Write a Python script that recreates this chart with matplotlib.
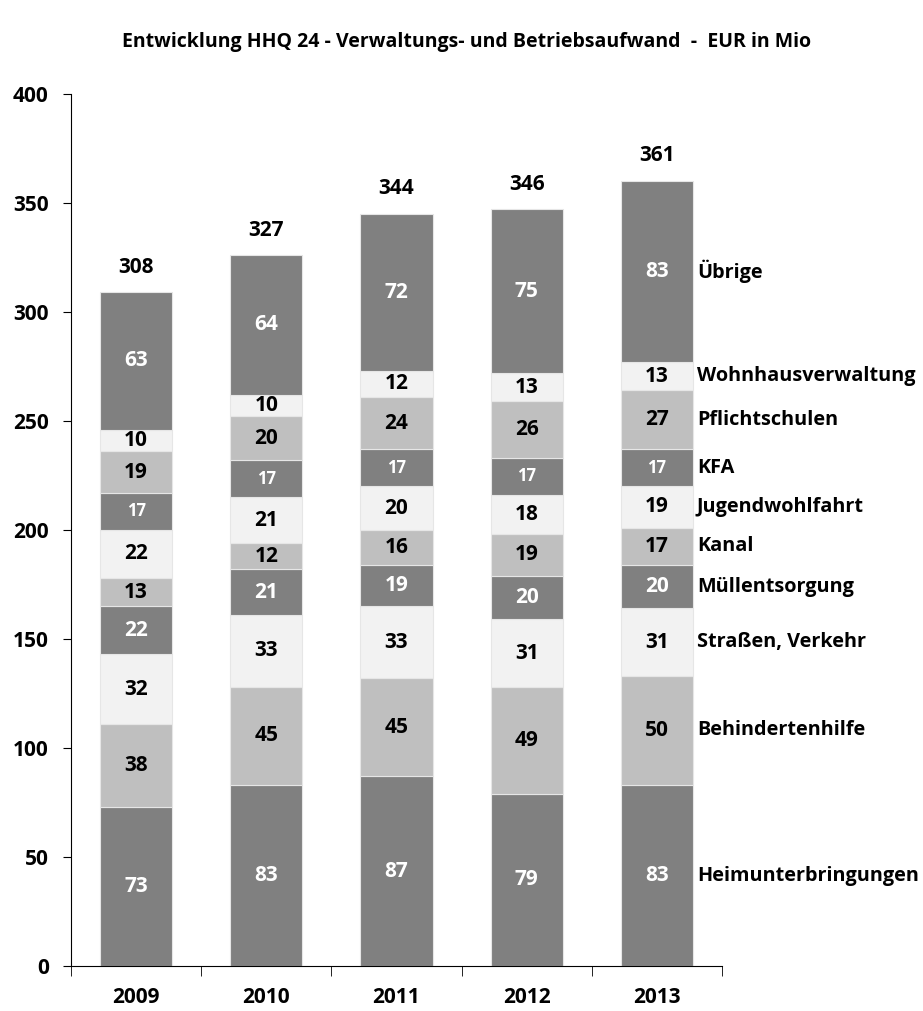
import numpy as np
import matplotlib.pyplot as plt

plt.rcParams["font.family"] = ["Open Sans", "DejaVu Sans"]
plt.rcParams["font.weight"] = "bold"

years = ["2009", "2010", "2011", "2012", "2013"]
categories = [
    "Heimunterbringungen",
    "Behindertenhilfe",
    "Straßen, Verkehr",
    "Müllentsorgung",
    "Kanal",
    "Jugendwohlfahrt",
    "KFA",
    "Pflichtschulen",
    "Wohnhausverwaltung",
    "Übrige",
]
heim = [73, 83, 87, 79, 83]
behind = [38, 45, 45, 49, 50]
strassen = [32, 33, 33, 31, 31]
muell = [22, 21, 19, 20, 20]
kanal = [13, 12, 16, 19, 17]
jugend = [22, 21, 20, 18, 19]
kfa = [17, 17, 17, 17, 17]
schulen = [19, 20, 24, 26, 27]
wohn = [10, 10, 12, 13, 13]
uebrige = [63, 64, 72, 75, 83]
totals = [308, 327, 344, 346, 361]

series = [heim, behind, strassen, muell, kanal, jugend, kfa, schulen, wohn, uebrige]

dark = "#808080"
mid = "#bfbfbf"
light = "#f2f2f2"
colors = [dark, mid, light] * 3 + [dark]

fig = plt.figure(figsize=(9.23, 10.11), dpi=100)
ax = fig.add_axes([0.0769, 0.0445, 0.7053, 0.8628])

x = np.arange(len(years))
width = 0.555
bottom = np.zeros(len(years))
for i, vals in enumerate(series):
    vals = np.array(vals, dtype=float)
    ax.bar(x, vals, width, bottom=bottom, color=colors[i],
           edgecolor="#e6e6e6", linewidth=0.8)
    txt_color = "white" if colors[i] == dark else "black"
    size = 12 if categories[i] == "KFA" else 15
    for j, v in enumerate(vals):
        ax.text(x[j], bottom[j] + v / 2, f"{v:.0f}", ha="center", va="center",
                color=txt_color, fontsize=size, fontweight="bold")
    # Beschriftung rechts neben dem letzten Balken
    ax.text(x[-1] + width / 2 + 0.03, bottom[-1] + vals[-1] / 2, categories[i],
            ha="left", va="center", fontsize=14.3, fontweight="bold")
    bottom += vals

for j, t in enumerate(totals):
    ax.annotate(str(t), (x[j], bottom[j]), xytext=(0, 18), textcoords="offset points",
                ha="center", va="center", fontsize=15, fontweight="bold")

ax.set_xlim(-0.5, len(years) - 0.5)
ax.set_ylim(0, 400)
ax.set_yticks(range(0, 401, 50))
ax.tick_params(axis="y", labelsize=15, length=6, pad=10)
ax.set_xticks(x)
ax.set_xticklabels(years)
ax.tick_params(axis="x", which="major", length=0, labelsize=15, pad=15)
ax.set_xticks(np.arange(-0.5, len(years)), minor=True)
ax.tick_params(axis="x", which="minor", length=7)
for lab in ax.get_xticklabels() + ax.get_yticklabels():
    lab.set_fontweight("bold")

ax.spines["top"].set_visible(False)
ax.spines["right"].set_visible(False)

fig.text(0.505, 0.958, "Entwicklung HHQ 24 - Verwaltungs- und Betriebsaufwand  -  EUR in Mio",
         ha="center", va="center", fontsize=14, fontweight="bold")

fig.savefig("out.png", dpi=100)
